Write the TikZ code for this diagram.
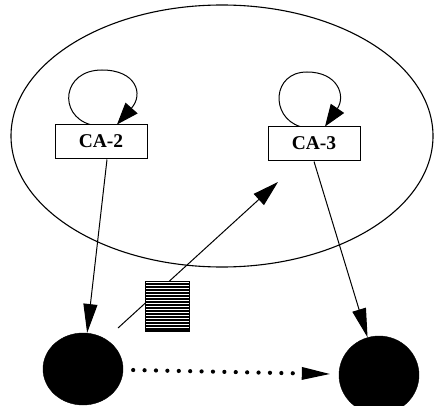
\documentclass[tikz,border=0pt]{standalone}
\usepackage{fontspec}
\setmainfont{Liberation Serif}
\usetikzlibrary{shapes.geometric,arrows.meta,calc}
\begin{document}
\begin{tikzpicture}[x=1pt,y=-1pt,
  thinline/.style={line width=1pt},
  cabox/.style={draw, thinline, rectangle, minimum width=92pt, minimum height=34pt, inner sep=0pt, text depth=2pt, font=\fontsize{19.5}{20}\selectfont\bfseries},
  blob/.style={draw, fill=black, ellipse, inner sep=0pt},
  group/.style={draw, line width=1.1pt, ellipse, inner sep=0pt},
  looparrow/.style={thinline, -{Triangle[length=22pt,width=16pt]}},
  bigarrow/.style={thinline, -{Triangle[length=29pt,width=14pt]}},
  dotarrow/.style={line width=4.2pt, line cap=round, dash pattern=on 0pt off 11.4pt, -{Triangle[length=28pt,width=13pt,line width=0pt]}},
  hatchbox/.style={draw, thinline, fill=black, rectangle, minimum width=44pt, minimum height=50pt, inner sep=0pt,
    path picture={\foreach \k in {1,...,16}{\draw[white,line width=0.8pt] ($(path picture bounding box.north west)+(0,\k*3-1.2)$) -- ($(path picture bounding box.north east)+(0,\k*3-1.2)$);}}}
]
\useasboundingbox (0,0) rectangle (436,406);
% group ellipse
\node[group, minimum width=422pt, minimum height=262pt] (grp) at (222,136) {};
% boxes
\node[cabox] (ca2) at (101,142) {CA-2};
\node[cabox] (ca3) at (314,144) {CA-3};
% self loops
\draw[looparrow] ([xshift=-11pt]ca2.north) .. controls (58,115) and (62,70) .. (102,70) .. controls (136,70) and (144,94) .. ([xshift=16pt]ca2.north);
\draw[looparrow] ([xshift=-14pt]ca3.north) .. controls (270,117) and (272,72) .. (307,72) .. controls (338,72) and (346,96) .. ([xshift=11pt]ca3.north);
% black circles
\node[blob, minimum width=80pt, minimum height=72pt] (c1) at (83,369) {};
\node[blob, minimum width=80pt, minimum height=78pt] (c2) at (379,375) {};
% arrows down
\draw[bigarrow] ([xshift=6pt]ca2.south) -- (c1);
\draw[bigarrow] (ca3.south) -- (c2);
% diagonal arrow
\coordinate (dstart) at (118,328);
\coordinate (dend) at (278,182);
\draw[thinline, -{Triangle[length=26pt,width=15pt]}] (dstart) -- (dend);
% hatched message box
\node[hatchbox] (msg) at (167,306) {};
% dotted arrow
\draw[dotarrow, shorten <=10pt, shorten >=9pt] (c1) -- (c2);
\end{tikzpicture}
\end{document}
